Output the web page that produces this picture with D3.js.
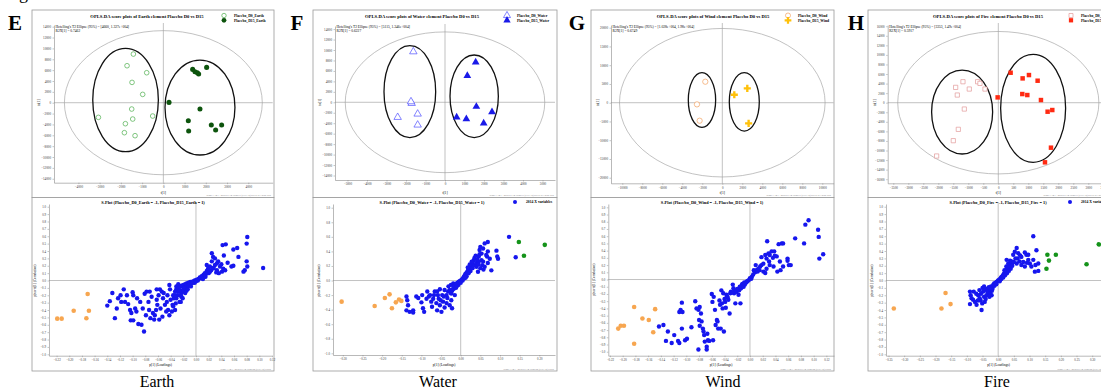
<!DOCTYPE html>
<html><head><meta charset="utf-8">
<script src="https://cdn.jsdelivr.net/npm/d3@7"></script>
<style>body{margin:0;background:#fff}svg{display:block}</style>
</head><body>
<svg id="c" width="1101" height="391"></svg>
<script>
// ---------------- DATA ----------------
const letters = ["E","F","G","H"];
const elements = ["Earth","Water","Wind","Fire"];
const r2x = ["0.7462","0.6227","0.6749","0.5917"];
const hotellingLabel = ["[4660, 1.327e+004]","[5115, 1.346e+004]","[1.028e+004, 1.98e+004]","[3353, 1.49e+004]"];
const hotellingRadii = [[4660,13270],[5115,13460],[10280,19800],[3353,14900]];
// group ellipses [cx, cy, rx, ry]: D0, D15
const groupEllipses = [
  [[-1780,490,1545,9509],[1725,-890,1647,8742]],
  [[-1803,2038,1325,8790],[1496,1146,1239,7898]],
  [[-2033,711,1367,7289],[2200,222,1500,7778]],
  [[-1206,-1951,1017,8780],[1161,-1185,1083,11289]]
];
const scoreXTicks = [
  [-4000,-3000,-2000,-1000,0,1000,2000,3000,4000],
  [-5000,-4000,-3000,-2000,-1000,0,1000,2000,3000,4000,5000],
  [-10000,-8000,-6000,-4000,-2000,0,2000,4000,6000,8000,10000],
  [-3500,-3000,-2500,-2000,-1500,-1000,-500,0,500,1000,1500,2000,2500,3000,3500]
];
const scoreYTicks = [
  [-14000,-12000,-10000,-8000,-6000,-4000,-2000,0,2000,4000,6000,8000,10000,12000,14000],
  [-14000,-12000,-10000,-8000,-6000,-4000,-2000,0,2000,4000,6000,8000,10000,12000,14000],
  [-20000,-15000,-10000,-5000,0,5000,10000,15000,20000],
  [-16000,-14000,-12000,-10000,-8000,-6000,-4000,-2000,0,2000,4000,6000,8000,10000,12000,14000,16000]
];
const splotXTicks = [
  [-0.22,-0.20,-0.18,-0.16,-0.14,-0.12,-0.10,-0.08,-0.06,-0.04,-0.02,0,0.02,0.04,0.06,0.08,0.10,0.12],
  [-0.30,-0.25,-0.20,-0.15,-0.10,-0.05,0,0.05,0.10,0.15,0.20],
  [-0.22,-0.20,-0.18,-0.16,-0.14,-0.12,-0.10,-0.08,-0.06,-0.04,-0.02,0,0.02,0.04,0.06,0.08,0.10,0.12],
  [-0.35,-0.30,-0.25,-0.20,-0.15,-0.10,-0.05,0,0.05,0.10,0.15,0.20,0.25,0.30,0.35]
];
const yTicksTenth = [-1.0,-0.9,-0.8,-0.7,-0.6,-0.5,-0.4,-0.3,-0.2,-0.1,0,0.1,0.2,0.3,0.4,0.5,0.6,0.7,0.8,0.9,1.0];
const yTicksFifth = [-1.0,-0.8,-0.6,-0.4,-0.2,0,0.2,0.4,0.6,0.8,1.0];

const scoreD0_Earth = [[-1412,8957],[-1710,6810],[-784,5521],[-1475,3742],[-973,1534],[-1490,-1166],[-502,-2454],[-3059,-2699],[-1443,-3006],[-1788,-3865],[-1835,-5521],[-1333,-6074]];
const scoreD15_Earth = [[1380,6135],[1490,5706],[1600,5521],[1663,5276],[2039,6503],[267,61],[1725,-1166],[1176,-3313],[2259,-4110],[2745,-4110],[2463,-5031],[1192,-5215]];
const scoreD0_Water = [[-1624,9682],[-1709,-191],[-1744,127],[-2427,-2866],[-1402,-2229],[-1402,-4331]];
const scoreD15_Water = [[1573,7643],[1145,5096],[1607,-828],[598,-2866],[1094,-3185],[2410,-1847],[1983,-4013]];
const scoreD0_Wind = [[-1700,5600],[-2533,-444],[-2267,-4800]];
const scoreD15_Wind = [[1200,2133],[2500,3822],[2633,-5511]];
const scoreD0_Fire = [[-1178,4390],[-689,4390],[-611,4042],[-1422,3206],[-967,2857],[-444,2857],[-1367,1603],[-1133,-1324],[-1333,-5575],[-1500,-7944],[-2056,-11150]];
const scoreD15_Fire = [[-22,1115],[411,6272],[811,5087],[1022,5784],[1311,4599],[1422,557],[800,1812],[967,1603],[1644,-1882],[1800,-1533],[1756,-9408],[1556,-12474]];

const splotBlue_Earth = [[-0.140,-0.34],[-0.132,-0.17],[-0.128,-0.51],[-0.123,-0.24],[-0.118,-0.29],[-0.114,-0.12],[-0.112,-0.29],[-0.107,-0.32],[-0.104,-0.40],[-0.103,-0.54],[-0.100,-0.16],[-0.099,-0.54],[-0.099,-0.20],[-0.096,-0.38],[-0.094,-0.42],[-0.091,-0.59],[-0.088,-0.29],[-0.086,-0.60],[-0.082,-0.69],[-0.081,-0.18],[-0.079,-0.47],[-0.078,-0.15],[-0.075,-0.29],[-0.074,-0.40],[-0.070,-0.22],[-0.068,-0.44],[-0.066,-0.53],[-0.065,-0.47],[-0.062,-0.12],[-0.062,-0.26],[-0.061,-0.33],[-0.059,-0.20],[-0.058,-0.53],[-0.057,-0.12],[-0.054,-0.15],[-0.053,-0.49],[-0.052,-0.24],[-0.049,-0.33],[-0.046,-0.29],[-0.045,-0.20],[-0.044,-0.40],[-0.042,-0.06],[-0.041,-0.12],[-0.038,-0.42],[-0.037,-0.33],[-0.036,-0.20],[-0.035,-0.24],[-0.033,-0.15],[-0.032,-0.31],[-0.031,-0.08],[-0.029,-0.20],[-0.028,-0.05],[-0.026,-0.29],[-0.025,-0.13],[-0.023,-0.22],[-0.021,-0.08],[-0.020,-0.15],
[-0.136,-0.28],[-0.125,-0.38],[-0.119,-0.20],[-0.109,-0.20],[-0.102,-0.44],[-0.093,-0.24],[-0.084,-0.38],[-0.073,-0.15],[-0.072,-0.51],[-0.063,-0.40],[-0.056,-0.38],[-0.051,-0.17],[-0.047,-0.42],[-0.040,-0.26],[-0.036,-0.35],[-0.033,-0.40],[-0.024,-0.29],[-0.042,-0.47],
[-0.031,-0.12],[-0.028,-0.10],[-0.025,-0.08],[-0.023,-0.07],[-0.020,-0.06],[-0.017,-0.05],[-0.015,-0.04],[-0.012,-0.03],[-0.009,-0.02],[-0.007,-0.02],[-0.004,-0.01],[-0.002,0.00],[0.001,0.01],[0.004,0.02],[0.006,0.04],[0.009,0.06],[0.012,0.08],[0.014,0.10],[0.017,0.13],[0.019,0.16],[0.022,0.19],[-0.023,-0.17],[-0.020,-0.13],[-0.017,-0.11],[-0.015,-0.09],[-0.012,-0.07],[-0.007,-0.04],[-0.002,-0.03],[-0.028,-0.15],[-0.025,-0.20],[-0.021,-0.24],[-0.017,-0.17],[-0.015,-0.14],[-0.031,-0.24],[-0.033,-0.20],
[-0.010,-0.05],[-0.005,-0.03],[0.000,-0.01],[0.003,0.00],[0.008,0.03],[0.010,0.04],[0.013,0.06],[0.016,0.09],[0.018,0.11],[0.020,0.10],[0.015,0.05],[0.011,0.02],[-0.019,-0.10],[-0.026,-0.14],[-0.013,-0.12],[-0.008,-0.08],[0.024,0.14],[0.021,0.12],[0.026,0.17],
[0.025,0.37],[0.027,0.32],[0.030,0.21],[0.033,0.23],[0.035,0.26],[0.038,0.19],[0.041,0.12],[0.043,0.16],[0.042,0.48],[0.047,0.49],[0.044,0.34],[0.056,0.19],[0.059,0.42],[0.059,0.20],[0.065,0.44],[0.067,0.32],[0.075,0.12],[0.077,0.14],[0.080,0.26],[0.080,0.50],[0.081,0.59],[0.081,0.19],[0.106,0.17],[0.017,0.21],[0.022,0.12],[0.033,0.14],[0.030,0.30],[0.025,0.26],[0.028,0.17],[0.036,0.10],[0.040,0.22],[0.032,0.11],[0.046,0.14],[0.050,0.24]];
const splotOrange_Earth = [[-0.219,-0.517],[-0.212,-0.517],[-0.193,-0.409],[-0.171,-0.183],[-0.169,-0.409],[-0.173,-0.512]];
const splotGreen_Earth = [];

const splotBlue_Water = [[-0.138,-0.22],[-0.136,-0.27],[-0.134,-0.34],[-0.138,-0.41],[-0.130,-0.43],[-0.121,-0.41],[-0.121,-0.44],[-0.113,-0.22],[-0.108,-0.24],[-0.100,-0.30],[-0.098,-0.20],[-0.096,-0.38],[-0.093,-0.43],[-0.087,-0.25],[-0.085,-0.15],[-0.081,-0.22],[-0.078,-0.20],[-0.075,-0.29],[-0.073,-0.36],[-0.070,-0.25],[-0.068,-0.20],[-0.066,-0.15],[-0.062,-0.31],[-0.060,-0.41],[-0.058,-0.20],[-0.056,-0.25],[-0.053,-0.12],[-0.053,-0.34],[-0.049,-0.43],[-0.047,-0.20],[-0.045,-0.29],[-0.041,-0.13],[-0.041,-0.37],[-0.036,-0.20],[-0.034,-0.24],[-0.032,-0.15],[-0.031,-0.08],[-0.028,-0.13],[-0.025,-0.06],[-0.024,-0.18],[-0.022,-0.38],[-0.019,-0.04],[-0.017,-0.11],[-0.015,-0.20],[-0.024,-0.27],[-0.028,-0.34],[-0.036,-0.31],[-0.043,-0.22],[-0.051,-0.27],[-0.060,-0.15],
[-0.020,-0.12],[-0.018,-0.09],[-0.015,-0.07],[-0.012,-0.05],[-0.010,-0.04],[-0.008,-0.03],[-0.005,-0.02],[-0.003,-0.01],[0.000,0.00],[0.003,0.01],[0.005,0.03],[0.008,0.05],[0.010,0.07],[0.012,0.09],[0.015,0.11],[0.018,0.13],[0.020,0.15],[0.022,0.18],[0.025,0.20],[0.028,0.22],[0.030,0.25],[0.033,0.28],[0.035,0.31],[0.038,0.34],[-0.025,-0.17],[-0.022,-0.14],[-0.012,-0.10],[-0.006,-0.06],[0.005,0.00],[0.010,0.03],[0.015,0.06],[0.020,0.10],[0.025,0.13],[0.030,0.17],[0.035,0.21],[0.040,0.24],[0.018,0.18],[0.023,0.22],[0.028,0.26],[-0.010,-0.08],[0.000,-0.03],[0.013,0.04],
[0.046,0.26],[0.048,0.42],[0.050,0.46],[0.053,0.37],[0.057,0.44],[0.061,0.51],[0.065,0.35],[0.067,0.33],[0.069,0.53],[0.074,0.30],[0.046,0.33],[0.040,0.19],[0.069,0.24],[0.061,0.19],[0.053,0.28],[0.078,0.14],[0.044,0.12],[0.057,0.26],[0.069,0.40],[0.042,0.29],[0.045,0.22],[0.050,0.17],[0.055,0.21],[0.058,0.15],[0.048,0.36],
[0.123,0.60],[0.140,0.32],[0.091,0.41],[0.095,0.30],[0.093,0.33]];
const splotOrange_Water = [[-0.303,-0.29],[-0.219,-0.35],[-0.193,-0.24],[-0.181,-0.19],[-0.165,-0.30],[-0.175,-0.38],[-0.157,-0.26],[-0.151,-0.28]];
const splotGreen_Water = [[0.148,0.53],[0.161,0.34],[0.214,0.49]];

const splotBlue_Wind = [[-0.143,-0.65],[-0.136,-0.63],[-0.129,-0.72],[-0.132,-0.85],[-0.123,-0.88],[-0.119,-0.77],[-0.113,-0.85],[-0.111,-0.88],[-0.107,-0.32],[-0.109,-0.42],[-0.111,-0.45],[-0.106,-0.45],[-0.107,-0.68],[-0.102,-0.84],[-0.099,-0.82],[-0.092,-0.66],[-0.086,-0.30],[-0.084,-0.40],[-0.081,-0.42],[-0.079,-0.38],[-0.080,-0.56],[-0.079,-0.64],[-0.077,-0.47],[-0.076,-0.58],[-0.074,-0.68],[-0.073,-0.72],[-0.072,-0.77],[-0.071,-0.86],[-0.068,-0.93],[-0.067,-0.75],[-0.066,-0.84],[-0.081,-0.97],[-0.068,-0.97],[-0.064,-0.85],[-0.060,-0.20],[-0.059,-0.31],[-0.058,-0.84],[-0.057,-0.24],[-0.055,-0.42],[-0.054,-0.63],[-0.052,-0.56],[-0.051,-0.58],[-0.050,-0.68],[-0.047,-0.35],[-0.046,-0.68],[-0.045,-0.15],[-0.043,-0.40],[-0.042,-0.19],[-0.041,-0.72],[-0.039,-0.31],[-0.038,-0.39],[-0.037,-0.21],[-0.036,-0.23],[-0.034,-0.28],[-0.032,-0.47],[-0.031,-0.19],[-0.030,-0.17],[-0.027,-0.07],[-0.026,-0.12],[-0.025,-0.19],[-0.023,-0.33],[-0.021,-0.17],[-0.018,-0.21],[-0.017,-0.15],[-0.015,-0.33],[-0.014,-0.12],[-0.013,-0.08],[-0.010,-0.10],[-0.008,-0.07],[-0.006,-0.04],[-0.004,-0.02],[-0.002,-0.01],
[0.000,0.02],[0.003,0.04],[0.005,0.07],[0.008,0.10],[0.010,0.13],[0.013,0.15],[0.016,0.18],[0.006,0.13],[0.009,0.20],[0.012,0.11],[0.015,0.13],[0.018,0.20],
[-0.020,-0.13],[-0.024,-0.15],[-0.028,-0.18],[-0.012,-0.06],[-0.016,-0.10],[-0.009,-0.04],[-0.005,-0.03],[0.002,0.01],[-0.035,-0.25],[-0.040,-0.27],[-0.044,-0.33],[-0.048,-0.29],
[0.018,0.31],[0.021,0.22],[0.024,0.34],[0.026,0.29],[0.027,0.53],[0.029,0.36],[0.030,0.25],[0.031,0.34],[0.034,0.39],[0.036,0.30],[0.038,0.39],[0.039,0.33],[0.042,0.32],[0.043,0.11],[0.045,0.49],[0.047,0.25],[0.048,0.13],[0.050,0.50],[0.052,0.50],[0.052,0.18],[0.059,0.29],[0.059,0.26],[0.061,0.20],[0.064,0.20],[0.071,0.57],[0.085,0.50],[0.087,0.76],[0.092,0.82],[0.107,0.69],[0.108,0.59],[0.109,0.29],[0.115,0.35],[0.021,0.11],[0.026,0.15],[0.024,0.09],[0.031,0.20],[0.037,0.18]];
const splotOrange_Wind = [[-0.182,-0.38],[-0.207,-0.68],[-0.203,-0.64],[-0.198,-0.64],[-0.182,-0.89],[-0.169,-0.54],[-0.159,-0.56],[-0.152,-0.73],[-0.149,-0.41]];
const splotGreen_Wind = [];

const splotBlue_Fire = [[-0.090,-0.15],[-0.088,-0.20],[-0.085,-0.24],[-0.090,-0.32],[-0.080,-0.26],[-0.078,-0.15],[-0.074,-0.29],[-0.069,-0.33],[-0.064,-0.20],[-0.059,-0.24],[-0.053,-0.40],[-0.051,-0.31],[-0.048,-0.15],[-0.045,-0.22],[-0.043,-0.29],[-0.037,-0.20],[-0.034,-0.11],[-0.032,-0.17],[-0.027,-0.13],[-0.023,-0.08],[-0.021,-0.20],[-0.018,-0.11],[-0.016,-0.06],[-0.013,-0.04],
[-0.060,-0.13],[-0.055,-0.18],[-0.050,-0.10],[-0.042,-0.12],[-0.040,-0.25],[-0.035,-0.15],[-0.030,-0.09],[-0.025,-0.18],[-0.020,-0.14],[-0.045,-0.08],[-0.056,-0.27],[-0.065,-0.27],[-0.070,-0.18],[-0.028,-0.22],
[-0.010,-0.04],[-0.008,-0.03],[-0.005,-0.02],[-0.002,-0.01],[0.000,0.00],[0.003,0.01],[0.006,0.02],[0.009,0.04],[0.012,0.05],[0.015,0.07],[0.018,0.09],[0.021,0.11],[0.024,0.13],[0.027,0.15],[0.030,0.17],[0.033,0.19],[0.036,0.21],[0.039,0.23],[0.042,0.25],[-0.012,-0.07],[-0.006,-0.05],[0.005,-0.01],[0.010,0.02],[0.016,0.04],[0.022,0.07],[0.028,0.10],[0.034,0.13],[0.040,0.16],[0.020,0.14],[0.026,0.19],[0.032,0.23],[0.038,0.27],
[0.059,0.44],[0.053,0.39],[0.048,0.35],[0.062,0.30],[0.064,0.37],[0.074,0.32],[0.085,0.38],[0.090,0.35],[0.096,0.35],[0.112,0.60],[0.122,0.41],[0.112,0.28],[0.101,0.23],[0.119,0.21],[0.128,0.23],[0.117,0.12],[0.128,0.13],[0.043,0.26],[0.074,0.21],[0.085,0.19],[0.059,0.23],[0.096,0.28],[0.106,0.19],[0.032,0.19],[0.027,0.28],[0.050,0.25],[0.055,0.30],[0.068,0.26],[0.045,0.20],[0.080,0.25],[0.070,0.34],[0.092,0.24]];
const splotOrange_Fire = [[-0.333,-0.38],[-0.181,-0.38],[-0.168,-0.17],[-0.152,-0.32]];
const splotGreen_Fire = [[0.157,0.35],[0.162,0.27],[0.184,0.35],[0.154,0.16],[0.282,0.22],[0.321,0.49]];

const scoreD0 = [scoreD0_Earth, scoreD0_Water, scoreD0_Wind, scoreD0_Fire];
const scoreD15 = [scoreD15_Earth, scoreD15_Water, scoreD15_Wind, scoreD15_Fire];
const splotBlue = [splotBlue_Earth, splotBlue_Water, splotBlue_Wind, splotBlue_Fire];
const splotOrange = [splotOrange_Earth, splotOrange_Water, splotOrange_Wind, splotOrange_Fire];
const splotGreen = [splotGreen_Earth, splotGreen_Water, splotGreen_Wind, splotGreen_Fire];

// ---------------- LAYOUT / STYLE ----------------
const L = [
 {x0:32,x1:274, letterX:15, nameX:157, legX:192, spLegend:false, yFmt:".1f",
  sc:{ax:54,right:272.7,top:25,bottom:182.7,xd:[-5150,5150],yd:[-14730,14310],titleX:147},
  sp:{ax:49,right:272,top:204,bottom:355.7,xd:[-0.232,0.12],yd:[-1.019,1.037],titleX:153}},
 {x0:313,x1:557, letterX:297, nameX:438, legX:194, spLegend:true, yFmt:".1f",
  sc:{ax:335,right:555,top:26,bottom:180,xd:[-5640,5640],yd:[-14860,14590],titleX:422},
  sp:{ax:333,right:555,top:204,bottom:355,xd:[-0.325,0.24],yd:[-1.023,1.051],titleX:432}},
 {x0:591,x1:834, letterX:577, nameX:723, legX:197, spLegend:false, yFmt:".1f",
  sc:{ax:611,right:833.6,top:25,bottom:183.3,xd:[-11130,11130],yd:[-21490,20720],titleX:713},
  sp:{ax:608.3,right:834,top:204,bottom:355.7,xd:[-0.2226,0.132],yd:[-1.055,1.046],titleX:712}},
 {x0:868,x1:1111, letterX:856, nameX:997, legX:203, spLegend:true, yFmt:".1f",
  sc:{ax:887.7,right:1108.9,top:25,bottom:183.3,xd:[-3687,3687],yd:[-16860,16255],titleX:988},
  sp:{ax:886,right:1111,top:204,bottom:355.7,xd:[-0.358,0.36],yd:[-1.019,1.037],titleX:998}}
];
const splotYTicks = [yTicksTenth, yTicksFifth, yTicksTenth, yTicksTenth];
const sym = [
 {d0:{type:d3.symbolCircle,size:17,stroke:"#4cae4c"}, d15:{type:d3.symbolCircle,size:20,fill:"#0d540d"}},
 {d0:{type:d3.symbolTriangle,size:24,stroke:"#5050ff"}, d15:{type:d3.symbolTriangle,size:26,fill:"#1a1ae8"}},
 {d0:{type:d3.symbolCircle,size:22,stroke:"#f2a060"}, d15:{type:d3.symbolCross,size:28,fill:"#ffc10a"}},
 {d0:{type:d3.symbolSquare,size:18,stroke:"#e29a9a"}, d15:{type:d3.symbolSquare,size:20,fill:"#ff2a12"}}
];
const SERIF = "Liberation Serif, Times New Roman, serif";
const svg = d3.select("#c");

// cut-off caption glyph at top-left
svg.append("text").attr("x",19).attr("y",-1).attr("font-family",SERIF).attr("font-size",18).text("g");

function styleAxis(sel, fs){
  sel.attr("font-size",fs).attr("font-family",SERIF);
  sel.select(".domain").attr("stroke","#8a8a8a").attr("stroke-width",0.6);
  sel.selectAll(".tick line").attr("stroke","#8a8a8a").attr("stroke-width",0.5);
  sel.selectAll(".tick text").attr("fill","#333");
}
function drawPoints(g, data, xs, ys, s){
  g.selectAll(null).data(data).join("path")
    .attr("transform", d=>`translate(${xs(d[0])},${ys(d[1])})`)
    .attr("d", d3.symbol().type(s.type).size(s.size))
    .attr("fill", s.fill || "#fff")
    .attr("stroke", s.fill ? "none" : s.stroke)
    .attr("stroke-width", 0.7);
}

L.forEach((P,i)=>{
  const g = svg.append("g");
  const w = P.x1-P.x0;
  // frames
  g.append("rect").attr("x",P.x0).attr("y",10).attr("width",w).attr("height",187.5)
    .attr("fill","#fff").attr("stroke","#9a9a9a").attr("stroke-width",0.8);
  g.append("rect").attr("x",P.x0).attr("y",197.5).attr("width",w).attr("height",173.5)
    .attr("fill","#fff").attr("stroke","#9a9a9a").attr("stroke-width",0.8);

  // ---- score plot ----
  const S = P.sc;
  const xs = d3.scaleLinear().domain(S.xd).range([S.ax,S.right]);
  const ys = d3.scaleLinear().domain(S.yd).range([S.bottom,S.top]);
  const hr = hotellingRadii[i];
  g.append("ellipse").attr("cx",xs(0)).attr("cy",ys(0))
    .attr("rx",xs(hr[0])-xs(0)).attr("ry",ys(0)-ys(hr[1]))
    .attr("fill","none").attr("stroke","#a8a8a8").attr("stroke-width",0.7);
  g.append("line").attr("x1",xs(0)).attr("x2",xs(0)).attr("y1",S.top-2).attr("y2",S.bottom)
    .attr("stroke","#999").attr("stroke-width",0.6);
  g.append("line").attr("x1",S.ax).attr("x2",S.right).attr("y1",ys(0)).attr("y2",ys(0))
    .attr("stroke","#999").attr("stroke-width",0.6);
  g.append("g").attr("transform",`translate(${S.ax},0)`)
    .call(d3.axisLeft(ys).tickValues(scoreYTicks[i]).tickFormat(d3.format("d")).tickSize(1.5).tickSizeOuter(0).tickPadding(1.5))
    .call(s=>styleAxis(s,3.2));
  g.append("g").attr("transform",`translate(0,${S.bottom})`)
    .call(d3.axisBottom(xs).tickValues(scoreXTicks[i]).tickFormat(d3.format("d")).tickSize(1.5).tickSizeOuter(0).tickPadding(1.5))
    .call(s=>styleAxis(s,3.2));
  groupEllipses[i].forEach(e=>{
    g.append("ellipse").attr("cx",xs(e[0])).attr("cy",ys(e[1]))
      .attr("rx",xs(e[2])-xs(0)).attr("ry",ys(0)-ys(e[3]))
      .attr("fill","none").attr("stroke","#111").attr("stroke-width",1.3);
  });
  drawPoints(g, scoreD0[i], xs, ys, sym[i].d0);
  drawPoints(g, scoreD15[i], xs, ys, sym[i].d15);
  // titles etc.
  g.append("text").attr("x",S.titleX).attr("y",17.5).attr("text-anchor","middle")
    .attr("font-family",SERIF).attr("font-weight","bold").attr("font-size",4.6)
    .text(`OPLS-DA score plots of ${elements[i]} element Placebo D0 vs D15`);
  [["d0","Placebo_D0_"],["d15","Placebo_D15_"]].forEach((lg,k)=>{
    const s = sym[i][lg[0]];
    const y = 15.5 + k*4.8;
    g.append("path").attr("transform",`translate(${P.x0+P.legX},${y})`)
      .attr("d", d3.symbol().type(s.type).size(s.size*0.9))
      .attr("fill", s.fill || "#fff").attr("stroke", s.fill?"none":s.stroke).attr("stroke-width",0.7);
    g.append("text").attr("x",P.x0+P.legX+10).attr("y",y+1.3)
      .attr("font-family",SERIF).attr("font-weight","bold").attr("font-size",3.7)
      .text(lg[1]+elements[i]);
  });
  g.append("text").attr("x",S.ax+1.5).attr("y",27.5).attr("font-family",SERIF).attr("font-size",3.6)
    .text(`Hotelling's T2 Ellipse (95%) = ${hotellingLabel[i]}`);
  g.append("text").attr("x",S.ax+1.5).attr("y",32).attr("font-family",SERIF).attr("font-size",3.6)
    .text(`R2X[1] = ${r2x[i]}`);
  g.append("text").attr("x",(S.ax+S.right)/2).attr("y",193.5).attr("text-anchor","middle")
    .attr("font-family",SERIF).attr("font-size",3.6).text("t[1]");
  g.append("text").attr("transform",`translate(${P.x0+7.5},${ys(0)}) rotate(-90)`).attr("text-anchor","middle")
    .attr("font-family",SERIF).attr("font-size",3.6).text("to[1]");
  g.append("text").attr("x",P.x1-3).attr("y",196.3).attr("text-anchor","end")
    .attr("font-family",SERIF).attr("font-size",2.4).attr("fill","#777")
    .text("SIMCA 14.1 - 2018-03-14 10:25:37 (UTC+8)  OPLS-DA score plot");

  // ---- S-plot ----
  const Q = P.sp;
  const qx = d3.scaleLinear().domain(Q.xd).range([Q.ax,Q.right]);
  const qy = d3.scaleLinear().domain(Q.yd).range([Q.bottom,Q.top]);
  g.append("line").attr("x1",qx(0)).attr("x2",qx(0)).attr("y1",Q.top-2).attr("y2",Q.bottom)
    .attr("stroke","#999").attr("stroke-width",0.6);
  g.append("line").attr("x1",Q.ax).attr("x2",Q.right).attr("y1",qy(0)).attr("y2",qy(0))
    .attr("stroke","#999").attr("stroke-width",0.6);
  g.append("g").attr("transform",`translate(${Q.ax},0)`)
    .call(d3.axisLeft(qy).tickValues(splotYTicks[i]).tickFormat(d3.format(P.yFmt)).tickSize(1.5).tickSizeOuter(0).tickPadding(1.5))
    .call(s=>styleAxis(s,3.1));
  g.append("g").attr("transform",`translate(0,${Q.bottom})`)
    .call(d3.axisBottom(qx).tickValues(splotXTicks[i]).tickFormat(d3.format(".2f")).tickSize(1.5).tickSizeOuter(0).tickPadding(1.5))
    .call(s=>styleAxis(s,3.1));
  const dot = (data,color,r)=> g.selectAll(null).data(data).join("circle")
    .attr("cx",d=>qx(d[0])).attr("cy",d=>qy(d[1])).attr("r",r).attr("fill",color);
  dot(splotBlue[i],"#1616ee",2.2);
  dot(splotOrange[i],"#f7a650",2.3);
  dot(splotGreen[i],"#15931a",2.3);
  g.append("text").attr("x",Q.titleX).attr("y",203.5).attr("text-anchor","middle")
    .attr("font-family",SERIF).attr("font-weight","bold").attr("font-size",4.3)
    .text(`S-Plot (Placebo_D0_${elements[i]} = -1, Placebo_D15_${elements[i]} = 1)`);
  if(P.spLegend){
    g.append("circle").attr("cx",P.x0+202).attr("cy",202).attr("r",2).attr("fill","#1616ee");
    g.append("text").attr("x",P.x0+213).attr("y",203.3).attr("font-family",SERIF).attr("font-weight","bold")
      .attr("font-size",3.7).text("2014 X variables");
  }
  g.append("text").attr("x",(Q.ax+Q.right)/2).attr("y",365.5).attr("text-anchor","middle")
    .attr("font-family",SERIF).attr("font-size",3.6).text("p[1] (Loadings)");
  g.append("text").attr("transform",`translate(${Q.ax-13},${qy(0)}) rotate(-90)`).attr("text-anchor","middle")
    .attr("font-family",SERIF).attr("font-size",3.4).text("p(corr)[1] (Correlation)");
  g.append("text").attr("x",P.x1-3).attr("y",369.5).attr("text-anchor","end")
    .attr("font-family",SERIF).attr("font-size",2.4).attr("fill","#777")
    .text("SIMCA 14.1 - 2018-03-14 10:26:02 (UTC+8)  S-plot");

  // panel letter and element name
  svg.append("text").attr("x",P.letterX).attr("y",30).attr("text-anchor","middle")
    .attr("font-family",SERIF).attr("font-weight","bold").attr("font-size",21).text(letters[i]);
  svg.append("text").attr("x",P.nameX).attr("y",387).attr("text-anchor","middle")
    .attr("font-family",SERIF).attr("font-size",16).text(elements[i]);
});
</script>
</body></html>
